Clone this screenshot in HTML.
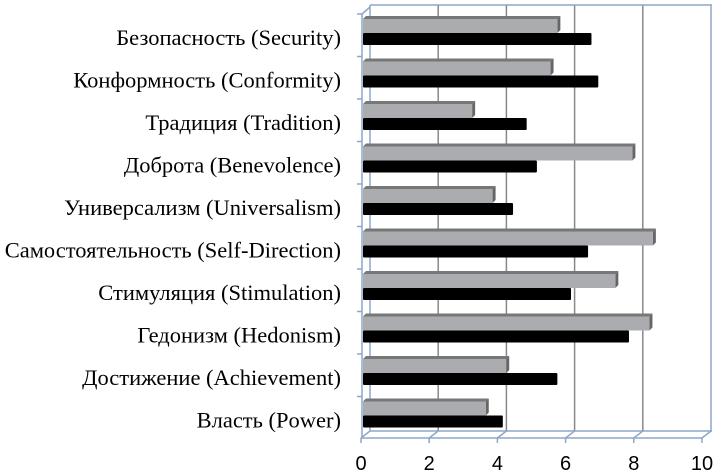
<!DOCTYPE html>
<html><head><meta charset="utf-8"><style>
body{margin:0;background:#fff}
svg{display:block}
text{font-family:"Liberation Serif",serif;font-size:22.5px;fill:#000}
.tk{font-family:"Liberation Sans",sans-serif;font-size:20px}
</style></head><body>
<svg id="c" width="719" height="472"></svg>
<script>
const categories=["Безопасность (Security)","Конформность (Conformity)","Традиция (Tradition)","Доброта (Benevolence)","Универсализм (Universalism)","Самостоятельность (Self-Direction)","Стимуляция (Stimulation)","Гедонизм (Hedonism)","Достижение (Achievement)","Власть (Power)"];
const grayValues=[5.7,5.5,3.2,7.9,3.8,8.5,7.4,8.4,4.2,3.6];
const blackValues=[6.7,6.9,4.8,5.1,4.4,6.6,6.1,7.8,5.7,4.1];
const ticks=[0,2,4,6,8,10];
const svg=document.getElementById('c');
const NS='http://www.w3.org/2000/svg';
function mk(t,a,p){const e=document.createElementNS(NS,t);for(const k in a)e.setAttribute(k,a[k]);(p||svg).appendChild(e);return e;}
const x0=363,xs=34.1,backDx=8;
function X(v){return x0+v*xs;}
const topY=14,slot=42.5;
function Y(i){return topY+i*slot;}
ticks.forEach(t=>{
 const bx=X(t)+backDx-1;
 let g=mk('line',{x1:bx,y1:5,x2:bx,y2:431,stroke:t==0||t==10?'#8ea6c8':'#888','stroke-width':1.5});
 
 
 let d=mk('line',{x1:X(t)-2,y1:438,x2:bx,y2:431,stroke:'#8ea6c8','stroke-width':1.5});
 
 
 let tk=mk('line',{x1:X(t)-2,y1:438,x2:X(t)-2,y2:443,stroke:'#8ea6c8','stroke-width':1.5});
 
 
 let lb=mk('text',{x:X(t)-2,y:470,'text-anchor':'middle',class:'tk'});lb.textContent=t;
 
 
});
let tl=mk('line',{x1:370,y1:5,x2:712,y2:5,stroke:'#8ea6c8','stroke-width':1.5});


let bf=mk('line',{x1:370,y1:431,x2:712,y2:431,stroke:'#8ea6c8','stroke-width':1.5});


let ff=mk('line',{x1:361,y1:438,x2:702,y2:438,stroke:'#8ea6c8','stroke-width':1.5});


let ya=mk('line',{x1:362,y1:Y(0),x2:362,y2:438,stroke:'#8ea6c8','stroke-width':1.5});


let yd=mk('line',{x1:362,y1:Y(0),x2:370,y2:7,stroke:'#8ea6c8','stroke-width':1.5});


categories.forEach((c,i)=>{
 let t=mk('line',{x1:357,y1:Y(i),x2:362,y2:Y(i),stroke:'#8ea6c8','stroke-width':1.5});
 
 
 const sy=Y(i);
 const gx=X(grayValues[i]);
 let gt=mk('polygon',{points:`${x0},${sy+5} ${gx},${sy+5} ${gx+3},${sy+2} ${x0+3},${sy+2}`,fill:'#777'});
 
 
 let gs=mk('polygon',{points:`${gx},${sy+5} ${gx+3},${sy+2} ${gx+3},${sy+16} ${gx},${sy+19}`,fill:'#666'});
 
 
 let g=mk('rect',{x:x0,y:sy+5,width:gx-x0,height:14,fill:'#aaacaf'});
 
 
 const bx=X(blackValues[i]);
 let b=mk('rect',{x:x0,y:sy+19,width:bx-x0,height:12,fill:'#000',rx:1});
 
 
 let l=mk('text',{x:341,y:sy+31,'text-anchor':'end'});l.textContent=c;
 
 
});
</script>
</body></html>
